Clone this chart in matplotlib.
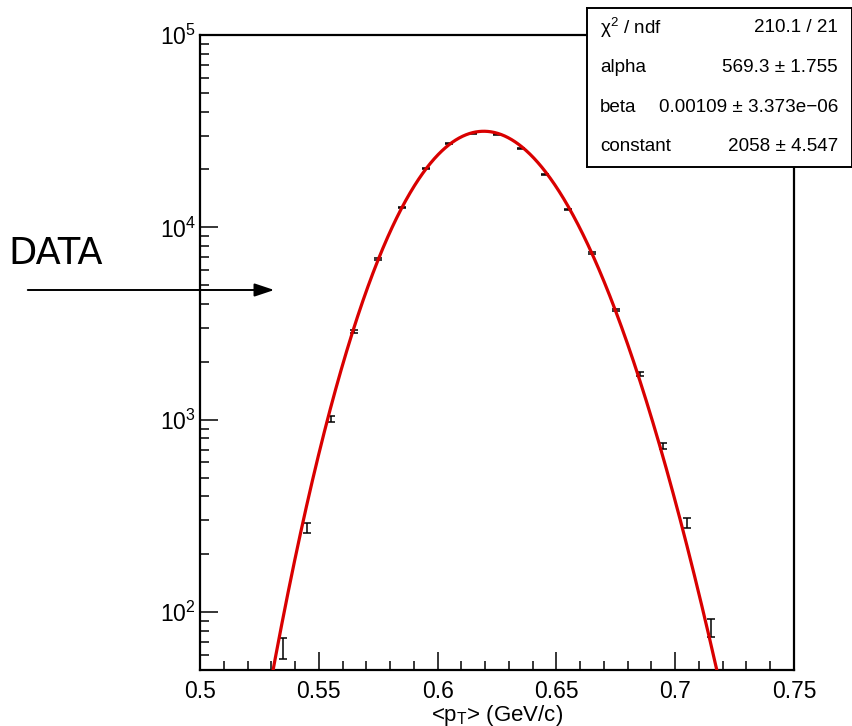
import math
import numpy as np
import matplotlib
matplotlib.use("Agg")
import matplotlib.pyplot as plt
from matplotlib.ticker import FixedLocator, LogLocator, NullFormatter, FuncFormatter

plt.rcParams["font.family"] = ["Liberation Sans", "DejaVu Sans"]
plt.rcParams["mathtext.fontset"] = "custom"
plt.rcParams["mathtext.rm"] = "Liberation Sans"
plt.rcParams["mathtext.it"] = "Liberation Sans:italic"
plt.rcParams["mathtext.default"] = "regular"

# Histogram of <pT>: bin centres, counts and their uncertainties
bin_centers = [0.535, 0.545, 0.555, 0.565, 0.575, 0.585, 0.595, 0.605, 0.615, 0.625,
               0.635, 0.645, 0.655, 0.665, 0.675, 0.685, 0.695, 0.705, 0.715]
counts = [65, 274, 1010, 2870, 6870, 12700, 20300, 27400, 30900, 30500,
          25800, 18900, 12400, 7350, 3720, 1730, 730, 290, 83]
count_errors = [8, 17, 32, 54, 83, 113, 142, 166, 176, 175,
                161, 137, 111, 86, 61, 42, 27, 17, 9]

# Gamma fit results
chi2_ndf = "210.1 / 21"
alpha, alpha_err = 569.3, "1.755"
beta, beta_err = 0.00109, "3.373e\u221206"
constant, constant_err = 2058, "4.547"

x_ticks = [0.5, 0.55, 0.6, 0.65, 0.7, 0.75]
x_tick_labels = ["0.5", "0.55", "0.6", "0.65", "0.7", "0.75"]


def gamma_fit(x):
    logf = (math.log(constant) + (alpha - 1) * np.log(x) - x / beta
            - math.lgamma(alpha) - alpha * math.log(beta))
    return np.exp(logf)


fig = plt.figure(figsize=(8.53, 7.26), dpi=100)
ax = fig.add_axes([200 / 853, 1 - 670 / 726, 594 / 853, 635 / 726])

xs = np.linspace(0.5, 0.75, 1200)
ax.plot(xs, gamma_fit(xs), color="#d90000", lw=2.3, zorder=3)

ax.errorbar(bin_centers, counts, yerr=count_errors, fmt="none", ecolor="black",
            elinewidth=1.1, capsize=3, capthick=1.1, zorder=2)

ax.set_yscale("log")
ax.set_xlim(0.5, 0.75)
ax.set_ylim(50, 1e5)

ax.xaxis.set_major_locator(FixedLocator(x_ticks))
ax.set_xticklabels(x_tick_labels)
ax.xaxis.set_minor_locator(FixedLocator(np.arange(0.51, 0.75, 0.01)))
ax.yaxis.set_major_locator(LogLocator(base=10))
ax.yaxis.set_minor_locator(LogLocator(base=10, subs=np.arange(2, 10)))
ax.yaxis.set_minor_formatter(NullFormatter())
ax.yaxis.set_major_formatter(FuncFormatter(lambda v, p: r"$10^{%d}$" % round(math.log10(v))))

ax.tick_params(which="both", direction="in", top=False, right=False, width=1.1)
ax.tick_params(which="major", length=13)
ax.tick_params(which="minor", length=6.5)
ax.tick_params(axis="x", which="major", labelsize=16.5, pad=7)
ax.tick_params(axis="y", which="major", labelsize=16.5, pad=3)
for s in ax.spines.values():
    s.set_linewidth(1.6)

ax.set_xlabel(r"<p$_{T}$> (GeV/c)", fontsize=16, labelpad=0)

# Fit statistics box
box = fig.add_axes([587 / 853, 1 - 167 / 726, 265 / 853, 159 / 726])
box.set_xticks([])
box.set_yticks([])
for s in box.spines.values():
    s.set_linewidth(1.4)
rows = [(r"$\chi^{2}$ / ndf", chi2_ndf),
        ("alpha", f"{alpha} \u00b1 {alpha_err}"),
        ("beta", f"{beta} \u00b1 {beta_err}"),
        ("constant", f"{constant} \u00b1 {constant_err}")]
for i, (name, val) in enumerate(rows):
    y = 1 - (20 + 39.6 * i) / 159
    box.text(13 / 265, y, name, fontsize=13.6, ha="left", va="center", transform=box.transAxes)
    box.text(251 / 265, y, val, fontsize=13.6, ha="right", va="center", transform=box.transAxes)

# Annotation pointing at the data
fig.text(8 / 853, 1 - 264 / 726, "DATA", fontsize=26.5, family="DejaVu Sans",
         ha="left", va="baseline")
fig.add_artist(matplotlib.patches.FancyArrowPatch(
    (25 / 853, 1 - 290 / 726), (277 / 853, 1 - 290 / 726), transform=fig.transFigure,
    arrowstyle="-|>,head_length=12,head_width=4", mutation_scale=1, lw=1.4, color="black"))

fig.savefig("out.png", dpi=100)
